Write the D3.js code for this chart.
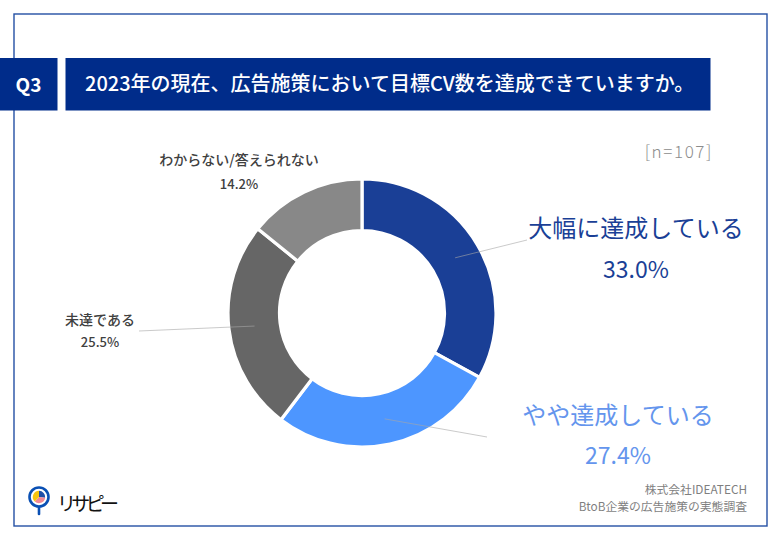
<!DOCTYPE html>
<html><head><meta charset="utf-8">
<script src="https://cdn.jsdelivr.net/npm/d3@7/dist/d3.min.js"></script>
<style>html,body{margin:0;padding:0;background:#fff}svg{display:block}text{font-family:"Noto Sans CJK JP","Noto Sans",sans-serif}</style>
</head><body><div id="c"></div>
<script>
const categories = ["大幅に達成している","やや達成している","未達である","わからない/答えられない"];
const values = [33.0,27.4,25.5,14.2];
const sliceColors = ["#1a3f96","#4d96ff","#666666","#888888"];
const labelColors = ["#1a3f96","#6495ed","#404040","#404040"];
const labelSizes = [24,24,14,14];
const pctSizes = [23,23,13,13];
const labelX = [636,618,100,239];
const labelY = [229,416,320,160];
const pctY = [270,456,342,184];
const lineEnds = [[527,240],[487,437],[139,331],null];
const title = "2023年の現在、広告施策において目標CV数を達成できていますか。";

const svg = d3.select("#c").append("svg").attr("width",780).attr("height",540);
svg.append("rect").attr("x",14).attr("y",14).attr("width",753).attr("height",512).attr("fill","#fff").attr("stroke","#2450a4").attr("stroke-width",1.4);
svg.append("rect").attr("x",0).attr("y",58).attr("width",57.5).attr("height",52.5).attr("fill","#002c8a");
svg.append("rect").attr("x",65.5).attr("y",58).attr("width",645).attr("height",52.5).attr("fill","#002c8a");
svg.append("text").attr("x",28.5).attr("y",92).attr("text-anchor","middle").attr("fill","#fff").attr("font-size",19).attr("font-weight",700).text("Q3");
svg.append("text").attr("x",85).attr("y",91).attr("fill","#fff").attr("font-size",20).attr("font-weight",500).text(title);

const cx=362, cy=313;
const g = svg.append("g").attr("transform",`translate(${cx},${cy})`);
const pie = d3.pie().sort(null).value(d=>d);
const arc = d3.arc().innerRadius(82.5).outerRadius(134);
const arcs = pie(values);
g.selectAll("path").data(arcs).join("path").attr("d",arc).attr("fill",(d,i)=>sliceColors[i]).attr("stroke","#fff").attr("stroke-width",3.2);

arcs.forEach((d,i)=>{
  if(!lineEnds[i]) return;
  const c = arc.centroid(d);
  svg.append("line").attr("x1",c[0]+cx).attr("y1",c[1]+cy).attr("x2",lineEnds[i][0]).attr("y2",lineEnds[i][1]).attr("stroke","#a6a6a6").attr("stroke-opacity",.6).attr("stroke-width",1);
});
categories.forEach((t,i)=>{
  svg.append("text").attr("x",labelX[i]).attr("y",labelY[i]+labelSizes[i]*0.35).attr("text-anchor","middle").attr("fill",labelColors[i]).attr("font-size",labelSizes[i]).attr("font-weight",i>1?500:400).text(t);
  svg.append("text").attr("x",labelX[i]).attr("y",pctY[i]+pctSizes[i]*0.35).attr("text-anchor","middle").attr("fill",labelColors[i]).attr("font-size",pctSizes[i]).attr("font-weight",i>1?500:400).text(values[i].toFixed(1)+"%");
});
svg.append("text").attr("x",713).attr("y",158).attr("text-anchor","end").attr("fill","#8c8c8c").attr("font-size",17).attr("font-weight",300).attr("letter-spacing",1.6).text("[n=107]");
svg.append("text").attr("x",747).attr("y",494).attr("text-anchor","end").attr("fill","#7f7f7f").attr("font-size",11.8).text("株式会社IDEATECH");
svg.append("text").attr("x",747).attr("y",511).attr("text-anchor","end").attr("fill","#7f7f7f").attr("font-size",11.8).text("BtoB企業の広告施策の実態調査");

// logo
const logo = svg.append("g").attr("transform","translate(39,497)");
logo.append("line").attr("x1",0).attr("y1",10).attr("x2",0).attr("y2",17).attr("stroke","#0a50b4").attr("stroke-width",2.6).attr("stroke-linecap","round");
logo.append("circle").attr("r",9.5).attr("fill","#fff").attr("stroke","#0a50b4").attr("stroke-width",2.6);
const logoArc = d3.arc().innerRadius(0).outerRadius(6.2);
const logoVals=[1,1.3,1.4], logoCols=["#1f4fa8","#f08a96","#f7c510"];
logo.selectAll("path").data(d3.pie().sort(null).value(d=>d)(logoVals)).join("path").attr("d",logoArc).attr("fill",(d,i)=>logoCols[i]);
svg.append("text").attr("x",57).attr("y",511).attr("fill","#111").attr("font-size",19).attr("font-weight",400).attr("textLength",62).attr("lengthAdjust","spacing").text("リサピー");
</script></body></html>
